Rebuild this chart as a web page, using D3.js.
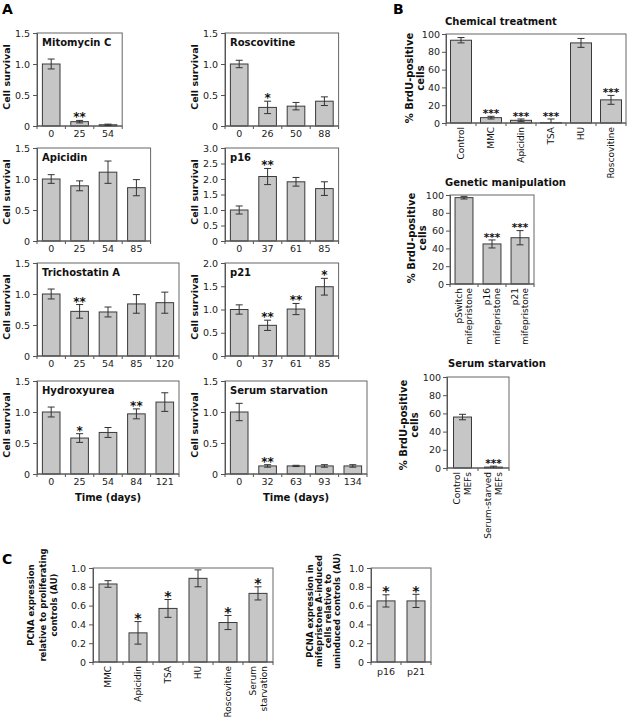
<!DOCTYPE html>
<html><head><meta charset="utf-8">
<script src="https://cdn.jsdelivr.net/npm/d3@7"></script>
<style>body{margin:0;background:#fff}svg{display:block;font-family:"DejaVu Sans",Verdana,sans-serif}</style>
</head><body><svg id="c" width="628" height="723"></svg>
<script>
// ---------- Panel A data ----------
const mitoDays = ["0","25","54"];
const mitoSurv = [1.0, 0.07, 0.02];
const mitoErr  = [0.08, 0.02, 0.01];
const mitoSig  = ["", "**", ""];

const roscoDays = ["0","26","50","88"];
const roscoSurv = [1.0, 0.30, 0.32, 0.40];
const roscoErr  = [0.06, 0.10, 0.06, 0.07];
const roscoSig  = ["", "*", "", ""];

const apiDays = ["0","25","54","85"];
const apiSurv = [1.0, 0.89, 1.11, 0.86];
const apiErr  = [0.07, 0.08, 0.18, 0.13];
const apiSig  = ["", "", "", ""];

const p16Days = ["0","37","61","85"];
const p16Surv = [1.0, 2.08, 1.91, 1.69];
const p16Err  = [0.13, 0.26, 0.14, 0.22];
const p16Sig  = ["", "**", "", ""];

const tsaDays = ["0","25","54","85","120"];
const tsaSurv = [1.0, 0.72, 0.71, 0.84, 0.86];
const tsaErr  = [0.08, 0.11, 0.08, 0.15, 0.17];
const tsaSig  = ["", "**", "", "", ""];

const p21Days = ["0","37","61","85"];
const p21Surv = [1.0, 0.66, 1.01, 1.49];
const p21Err  = [0.10, 0.11, 0.12, 0.18];
const p21Sig  = ["", "**", "**", "*"];

const huDays = ["0","25","54","84","121"];
const huSurv = [1.0, 0.58, 0.67, 0.97, 1.16];
const huErr  = [0.08, 0.07, 0.08, 0.08, 0.15];
const huSig  = ["", "*", "", "**", ""];

const ssDays = ["0","32","63","93","134"];
const ssSurv = [1.0, 0.13, 0.13, 0.13, 0.13];
const ssErr  = [0.14, 0.02, 0.01, 0.02, 0.02];
const ssSig  = ["", "**", "", "", ""];

const survTicks15 = [0, 0.5, 1.0, 1.5];
const survTicks20 = [0, 0.5, 1.0, 1.5, 2.0];
const survTicks30 = [0, 0.5, 1.0, 1.5, 2.0, 2.5, 3.0];

// ---------- Panel B data ----------
const chemCats = ["Control","MMC","Apicidin","TSA","HU","Roscovitine"];
const chemBrdU = [93, 6, 3, 0.5, 90, 26];
const chemErr  = [3, 1.5, 1.5, 4, 5, 5];
const chemSig  = ["", "***", "***", "***", "", "***"];

const genCats = ["pSwitch\nmifepristone","p16\nmifepristone","p21\nmifepristone"];
const genBrdU = [97, 45, 52];
const genErr  = [1.5, 4.5, 8];
const genSig  = ["", "***", "***"];

const serCats = ["Control\nMEFs","Serum-starved\nMEFs"];
const serBrdU = [56, 1];
const serErr  = [3, 1];
const serSig  = ["", "***"];

const brduTicks = [0, 20, 40, 60, 80, 100];

// ---------- Panel C data ----------
const pcnaCats = ["MMC","Apicidin","TSA","HU","Roscovitine","Serum\nstarvation"];
const pcnaExpr = [0.83, 0.31, 0.57, 0.89, 0.42, 0.73];
const pcnaErr  = [0.035, 0.12, 0.095, 0.09, 0.075, 0.07];
const pcnaSig  = ["", "*", "*", "", "*", "*"];

const pcnaGenCats = ["p16","p21"];
const pcnaGenExpr = [0.65, 0.65];
const pcnaGenErr  = [0.065, 0.07];
const pcnaGenSig  = ["*", "*"];

const pcnaTicks = [0, 0.2, 0.4, 0.6, 0.8, 1.0];

// ---------- drawing ----------
const svg = d3.select("#c");
const fmt1 = d => d === 0 ? "0" : d3.format(".1f")(d);
const fmt0 = d3.format("d");

function rotLines(g, lines, cx, cy, fs, lh, weight, anchor) {
  const n = lines.length;
  lines.forEach((t, i) => {
    const xi = cx + (i - (n - 1) / 2) * lh;
    g.append("text")
      .attr("transform", `translate(${xi},${cy}) rotate(-90)`)
      .attr("text-anchor", anchor || "middle")
      .attr("dy", "0.35em")
      .attr("font-size", fs)
      .attr("font-weight", weight || "normal")
      .attr("fill", "#111")
      .text(t);
  });
}

function chart(o) {
  const g = svg.append("g");
  const x = d3.scaleBand().domain(o.cats).range([o.x, o.x + o.w])
    .paddingInner(o.pad).paddingOuter(o.pad / 2);
  const y = d3.scaleLinear().domain([0, o.yMax]).range([o.y + o.h, o.y]);
  const base = y(0);

  g.selectAll(".bar").data(o.cats).enter().append("rect")
    .attr("x", d => x(d)).attr("width", x.bandwidth())
    .attr("y", (d, i) => y(o.vals[i]))
    .attr("height", (d, i) => base - y(o.vals[i]))
    .attr("fill", "#c6c6c6").attr("stroke", "#3a3a3a").attr("stroke-width", 1);

  g.append("rect").attr("x", o.x).attr("y", o.y).attr("width", o.w).attr("height", o.h)
    .attr("fill", "none").attr("stroke", "#666").attr("stroke-width", 1);

  const ya = d3.axisLeft(y).tickValues(o.ticks).tickSize(4).tickPadding(o.tickPad || 3).tickFormat(o.fmt);
  const ay = g.append("g").attr("transform", `translate(${o.x},0)`).call(ya);
  ay.select(".domain").attr("stroke", "#555");
  ay.selectAll(".tick line").attr("stroke", "#555");
  ay.selectAll(".tick text").attr("font-size", o.tickFs || 9.5).attr("fill", "#222")
    .attr("font-family", "DejaVu Sans, Verdana, sans-serif");
  g.append("line").attr("x1", o.x).attr("x2", o.x + o.w).attr("y1", base).attr("y2", base)
    .attr("stroke", "#555");
  d3.range(o.cats.length + 1).forEach(i => {
    const bx = o.x + i * o.w / o.cats.length;
    g.append("line").attr("x1", bx).attr("x2", bx).attr("y1", base).attr("y2", base + 3)
      .attr("stroke", "#555");
  });

  const cap = 3.5;
  o.cats.forEach((d, i) => {
    const cx = x(d) + x.bandwidth() / 2;
    const lo = Math.max(0, o.vals[i] - o.errs[i]), hi = o.vals[i] + o.errs[i];
    g.append("line").attr("x1", cx).attr("x2", cx).attr("y1", y(lo)).attr("y2", y(hi)).attr("stroke", "#333");
    g.append("line").attr("x1", cx - cap).attr("x2", cx + cap).attr("y1", y(hi)).attr("y2", y(hi)).attr("stroke", "#333");
    if (o.vals[i] - o.errs[i] > 0)
      g.append("line").attr("x1", cx - cap).attr("x2", cx + cap).attr("y1", y(lo)).attr("y2", y(lo)).attr("stroke", "#333");
    if (o.sig[i]) {
      const fs = o.starFs || 12;
      g.append("text").attr("x", cx).attr("y", y(hi) - 2 + 0.25 * fs)
        .attr("text-anchor", "middle").attr("font-size", fs).attr("font-weight", "bold")
        .attr("fill", "#111").text(o.sig[i]);
    }
  });

  o.cats.forEach(d => {
    const cx = x(d) + x.bandwidth() / 2;
    if (o.rot) {
      rotLines(g, d.split("\n"), cx, base + 4, o.catFs || 9, o.catLh || 10, "normal", "end");
    } else {
      g.append("text").attr("x", cx).attr("y", base + (o.catDy || 11))
        .attr("text-anchor", "middle").attr("font-size", o.catFs || 9.5).attr("fill", "#222").text(d);
    }
  });

  if (o.title) {
    g.append("text").attr("x", o.titleX).attr("y", o.titleY)
      .attr("font-size", o.titleFs || 10).attr("font-weight", "bold").attr("fill", "#111").text(o.title);
  }
  rotLines(g, o.ylab, o.ylabX, o.ylabY, o.ylabFs || 9.5, o.ylabLh || 11, "bold");
  if (o.xtitle) {
    g.append("text").attr("x", o.x + o.w / 2).attr("y", o.xtitleY).attr("text-anchor", "middle")
      .attr("font-size", 10).attr("font-weight", "bold").attr("fill", "#111").text(o.xtitle);
  }
}

const STEP = 28.4;
function aChart(col, row, cats, vals, errs, sig, yMax, ticks, title, xtitle) {
  const x0 = col === 0 ? 37 : 225;
  const tops = [33, 148, 263, 381];
  const y0 = tops[row];
  chart({x: x0, y: y0, w: STEP * cats.length, h: 93, cats, vals, errs, sig, yMax, ticks, fmt: fmt1,
    pad: 0.38, title, titleX: x0 + 5, titleY: y0 + 13, ylab: ["Cell survival"], ylabX: x0 - 30,
    ylabY: y0 + 44, ylabFs: 9.5, catDy: 11, catFs: 9.5, tickFs: 9.5, xtitle, xtitleY: 501, starFs: 12});
}

aChart(0, 0, mitoDays, mitoSurv, mitoErr, mitoSig, 1.5, survTicks15, "Mitomycin C");
aChart(1, 0, roscoDays, roscoSurv, roscoErr, roscoSig, 1.5, survTicks15, "Roscovitine");
aChart(0, 1, apiDays, apiSurv, apiErr, apiSig, 1.5, survTicks15, "Apicidin");
aChart(1, 1, p16Days, p16Surv, p16Err, p16Sig, 3.0, survTicks30, "p16");
aChart(0, 2, tsaDays, tsaSurv, tsaErr, tsaSig, 1.5, survTicks15, "Trichostatin A");
aChart(1, 2, p21Days, p21Surv, p21Err, p21Sig, 2.0, survTicks20, "p21");
aChart(0, 3, huDays, huSurv, huErr, huSig, 1.5, survTicks15, "Hydroxyurea", "Time (days)");
aChart(1, 3, ssDays, ssSurv, ssErr, ssSig, 1.5, survTicks15, "Serum starvation", "Time (days)");

// Panel B
const brduLab = ["% BrdU-positive", "cells"];
chart({x: 446, y: 34, w: 180, h: 89, cats: chemCats, vals: chemBrdU, errs: chemErr, sig: chemSig,
  yMax: 100, ticks: brduTicks, fmt: fmt0, pad: 0.3, rot: true, catFs: 9, tickFs: 9.5, tickPad: 2,
  title: "Chemical treatment", titleX: 445, titleY: 25, ylab: brduLab, ylabX: 415, ylabY: 78,
  ylabFs: 10, ylabLh: 11, starFs: 10.5});
chart({x: 450, y: 195, w: 84, h: 89, cats: genCats, vals: genBrdU, errs: genErr, sig: genSig,
  yMax: 100, ticks: brduTicks, fmt: fmt0, pad: 0.36, rot: true, catFs: 9, catLh: 10, tickFs: 9.5, tickPad: 2,
  title: "Genetic manipulation", titleX: 445, titleY: 186, ylab: brduLab, ylabX: 417, ylabY: 238,
  ylabFs: 10, ylabLh: 11, starFs: 10.5});
chart({x: 447, y: 377, w: 62, h: 91, cats: serCats, vals: serBrdU, errs: serErr, sig: serSig,
  yMax: 100, ticks: brduTicks, fmt: fmt0, pad: 0.42, rot: true, catFs: 9, catLh: 11, tickFs: 9.5, tickPad: 2,
  title: "Serum starvation", titleX: 448, titleY: 367, ylab: brduLab, ylabX: 409, ylabY: 425,
  ylabFs: 10, ylabLh: 11, starFs: 10.5});

// Panel C
chart({x: 93, y: 568, w: 180, h: 94, cats: pcnaCats, vals: pcnaExpr, errs: pcnaErr, sig: pcnaSig,
  yMax: 1.0, ticks: pcnaTicks, fmt: fmt1, pad: 0.4, rot: true, catFs: 9, catLh: 11, tickFs: 9.5,
  ylab: ["PCNA expression", "relative to proliferating", "controls (AU)"], ylabX: 43, ylabY: 605,
  ylabFs: 8.5, ylabLh: 11.5, starFs: 14});
chart({x: 371, y: 568, w: 60, h: 94, cats: pcnaGenCats, vals: pcnaGenExpr, errs: pcnaGenErr, sig: pcnaGenSig,
  yMax: 1.0, ticks: pcnaTicks, fmt: fmt1, pad: 0.4, catFs: 9.5, catDy: 13, tickFs: 9.5,
  ylab: ["PCNA expression in", "mifepristone A-induced", "cells relative to", "uninduced controls (AU)"],
  ylabX: 323.5, ylabY: 611, ylabFs: 8.5, ylabLh: 9, starFs: 14});

[["A", 2, 14], ["B", 393, 14], ["C", 2, 564]].forEach(([t, px, py]) => {
  svg.append("text").attr("x", px).attr("y", py).attr("font-size", 14).attr("font-weight", "bold")
    .attr("fill", "#000").text(t);
});
</script></body></html>
